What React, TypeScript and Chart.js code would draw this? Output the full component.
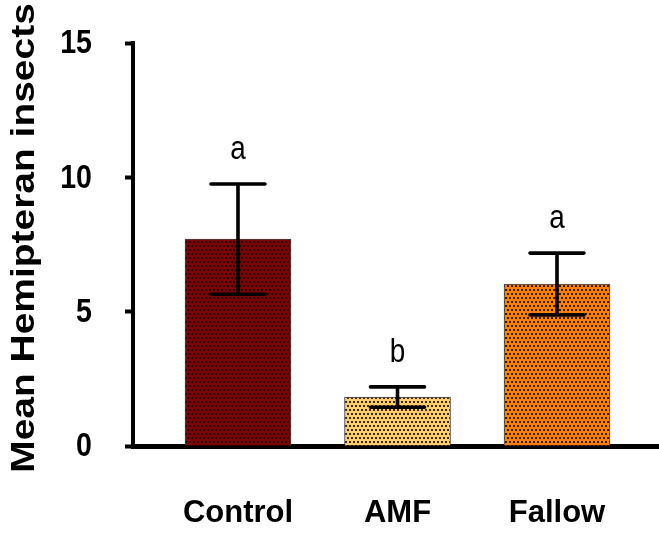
import React, { useEffect, useRef } from "react";
import { Chart, registerables } from "chart.js";

Chart.register(...registerables);

const categories = ["Control", "AMF", "Fallow"];
const means = [7.7, 1.82, 6.03];
const errors = [2.05, 0.38, 1.15];
const letters = ["a", "b", "a"];
const yTickValues = [0, 5, 10, 15];
const barColors = ["#800000", "#FFCC66", "#FF8000"];
const yAxisTitle = "Mean Hemipteran insects";

function makePattern(color: string): CanvasPattern | string {
  const c = document.createElement("canvas");
  c.width = 4;
  c.height = 8;
  const g = c.getContext("2d");
  if (!g) return color;
  g.fillStyle = color;
  g.fillRect(0, 0, 4, 8);
  g.fillStyle = "rgba(0,0,0,0.8)";
  g.fillRect(1, 1, 2, 2);
  g.fillRect(3, 5, 1, 2);
  g.fillRect(0, 5, 1, 2);
  const p = g.createPattern(c, "repeat");
  return p || color;
}

const errorBarPlugin = {
  id: "errorBars",
  afterDatasetsDraw(chart: any) {
    const ctx = chart.ctx;
    const xs = chart.scales.x;
    const ys = chart.scales.y;
    ctx.save();
    ctx.strokeStyle = "#000";
    ctx.lineWidth = 3.6;
    ctx.lineCap = "round";
    means.forEach((m, i) => {
      const x = xs.getPixelForValue(i + 1);
      const yTop = ys.getPixelForValue(m + errors[i]);
      const yBot = ys.getPixelForValue(m - errors[i]);
      ctx.beginPath();
      ctx.moveTo(x, yTop);
      ctx.lineTo(x, yBot);
      ctx.moveTo(x - 27, yTop);
      ctx.lineTo(x + 27, yTop);
      ctx.moveTo(x - 27, yBot);
      ctx.lineTo(x + 27, yBot);
      ctx.stroke();
      ctx.save();
      ctx.translate(x, yTop - 25);
      ctx.scale(0.82, 1);
      ctx.fillStyle = "#000";
      ctx.font = "34px 'Liberation Sans', Arial, sans-serif";
      ctx.textAlign = "center";
      ctx.textBaseline = "alphabetic";
      ctx.fillText(letters[i], 0, 0);
      ctx.restore();
    });
    ctx.restore();
  },
};

const textPlugin = {
  id: "stretchedText",
  afterDraw(chart: any) {
    const ctx = chart.ctx;
    const ys = chart.scales.y;
    ctx.save();
    ctx.fillStyle = "#000";
    // y tick labels (condensed)
    ctx.font = "bold 34px 'Liberation Sans', Arial, sans-serif";
    ctx.textAlign = "right";
    ctx.textBaseline = "middle";
    yTickValues.forEach((v) => {
      const y = ys.getPixelForValue(v);
      ctx.save();
      ctx.translate(92, y + 1);
      ctx.scale(0.84, 1);
      ctx.fillText(String(v), 0, 0);
      ctx.restore();
    });
    // rotated y-axis title (stretched)
    ctx.translate(25, 238);
    ctx.rotate(-Math.PI / 2);
    ctx.scale(1.18, 1);
    ctx.font = "bold 33px 'Liberation Sans', Arial, sans-serif";
    ctx.textAlign = "center";
    ctx.textBaseline = "middle";
    ctx.fillText(yAxisTitle, 0, 0);
    ctx.restore();
  },
};

export default function App() {
  const ref = useRef<HTMLCanvasElement | null>(null);

  useEffect(() => {
    if (!ref.current) return;
    const chart = new Chart(ref.current, {
      type: "bar",
      data: {
        datasets: [
          {
            data: means.map((m, i) => ({ x: i + 1, y: m })),
            backgroundColor: barColors.map((c) => makePattern(c)) as any,
            borderColor: "#444444",
            borderWidth: 1,
            barThickness: 106,
          },
        ],
      },
      options: {
        animation: false,
        responsive: false,
        maintainAspectRatio: false,
        layout: { padding: { top: 43, left: 0, right: 0, bottom: 0 } },
        plugins: {
          legend: { display: false },
          tooltip: { enabled: false },
          title: { display: false },
        },
        scales: {
          x: {
            type: "linear",
            offset: false,
            min: 0.3417,
            max: 3.6395,
            z: 1,
            afterBuildTicks: (s: any) => {
              s.ticks = categories.map((_, i) => ({ value: i + 1 }));
            },
            afterFit: (s: any) => {
              s.height = 87;
            },
            grid: { display: false, drawTicks: false },
            border: { display: true, color: "#000", width: 5 },
            ticks: {
              callback: (v: any) => categories[Number(v) - 1] ?? "",
              color: "#000",
              padding: 49,
              maxRotation: 0,
              autoSkip: false,
              font: { family: "'Liberation Sans', Arial, sans-serif", weight: "bold", size: 31 },
            },
          },
          y: {
            type: "linear",
            min: 0,
            max: 15,
            afterBuildTicks: (s: any) => {
              s.ticks = yTickValues.map((v) => ({ value: v }));
            },
            afterFit: (s: any) => {
              s.width = 133;
            },
            grid: {
              display: true,
              drawOnChartArea: false,
              drawTicks: true,
              tickLength: 8,
              tickWidth: 4,
              tickColor: "#000",
            },
            border: { display: true, color: "#000", width: 4 },
            ticks: {
              display: false,
              stepSize: 5,
              padding: 0,
            },
          },
        },
      } as any,
      plugins: [errorBarPlugin, textPlugin],
    });
    return () => chart.destroy();
  }, []);

  return (
    <div style={{ position: "absolute", left: 0, top: 0, width: 659, height: 533, background: "#fff" }}>
      <canvas ref={ref} width={659} height={533} />
    </div>
  );
}
